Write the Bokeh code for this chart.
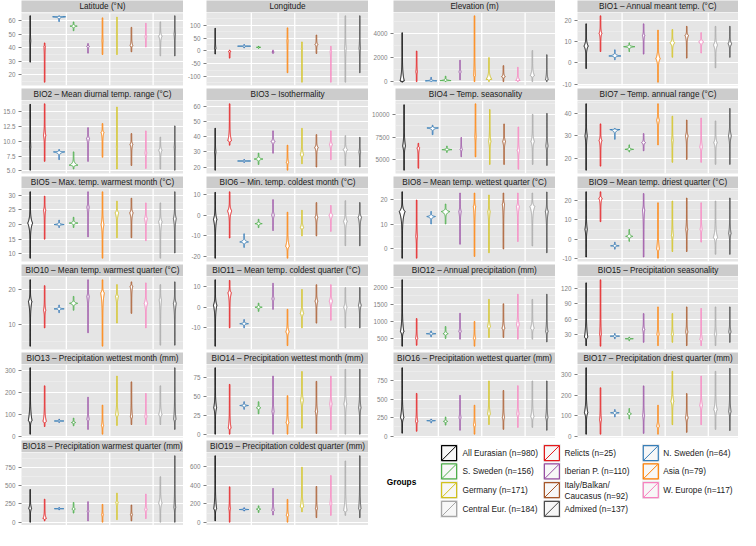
import numpy as np
from bokeh.plotting import figure
from bokeh.models import Range1d, DataRange1d, FixedTicker, Span, ColumnDataSource, CustomJSTickFormatter
from bokeh.layouts import row, column
from bokeh.embed import file_html
from bokeh.resources import INLINE
from bokeh.core.properties import value

FONT = "Liberation Sans"

# ---------------- groups ----------------
GROUP_LABELS = ["All Eurasian (n=980)", "Relicts (n=25)", "N. Sweden (n=64)",
                "S. Sweden (n=156)", "Iberian P. (n=110)", "Asia (n=79)",
                "Germany (n=171)", "Italy/Balkan/\nCaucasus (n=92)", "W. Europe (n=117)",
                "Central Eur. (n=184)", "Admixed (n=137)"]
GROUP_COLORS = ["#000000", "#E41A1C", "#377EB8", "#4DAF4A", "#984EA3", "#FF7F00",
                "#D1C11D", "#A65628", "#F781BF", "#A6A6A6", "#4D4D4D"]
X_POS = [1, 2, 3, 4, 5, 6, 7, 8, 9, 10, 11]
SEPARATORS = [3.5, 6.5, 9.5]

# ---------------- violins: (min, max, densest value, half-width at densest) per group ----------------
LATITUDE = [(29.4, 63.5, 45, 0.04), (14.6, 43.5, 41, 0.05), (59.3, 63.5, 62.8, 0.45), (52.5, 59.0, 55.9, 0.25),
            (36, 43, 41, 0.1), (35, 62, 45, 0.04), (35, 62.5, 50, 0.04), (37, 55, 41.5, 0.1),
            (40.5, 58, 48, 0.06), (34, 59, 48.5, 0.12), (34, 63.5, 50, 0.05)]
LATITUDE_TICKS = [20, 30, 40, 50, 60]
LATITUDE_LABELS = ["20", "30", "40", "50", "60"]

LONGITUDE = [(-12, 88, 10, 0.05), (-28, 3, -2, 0.08), (12, 25, 18.5, 0.45), (10, 18, 14, 0.15),
             (-10, 3, -5, 0.08), (-85, 90, 40, 0.04), (-122, 35, 10, 0.04), (-10, 62, 25, 0.1),
             (-122, 18, 0, 0.05), (-122, 137, 10, 0.06), (-85, 137, 10, 0.05)]
LONGITUDE_TICKS = [-100, -50, 0, 50, 100]
LONGITUDE_LABELS = ["-100", "-50", "0", "50", "100"]

ELEVATION = [(-50, 4080, 50, 0.15), (0, 2550, 800, 0.06), (0, 350, 60, 0.4), (0, 450, 80, 0.38),
             (150, 1780, 800, 0.08), (0, 5500, 500, 0.06), (0, 2000, 200, 0.2), (0, 1330, 400, 0.13),
             (0, 1190, 100, 0.15), (0, 2590, 500, 0.15), (0, 2240, 150, 0.1)]
ELEVATION_TICKS = [0, 2000, 4000]
ELEVATION_LABELS = ["0", "2000", "4000"]

BIO1 = [(-2.6, 18.5, 8, 0.15), (5.4, 22.3, 14, 0.1), (1.5, 6.2, 3.3, 0.42), (5.4, 9.5, 7.7, 0.39),
        (4.2, 18.5, 13, 0.08), (-9.1, 15.5, 2, 0.15), (2.7, 15.8, 9.5, 0.17), (2.3, 17.3, 13, 0.12),
        (4.7, 14.3, 10, 0.17), (-2.3, 17.3, 8.5, 0.15), (2.7, 17.3, 9, 0.13)]
BIO1_TICKS = [-10, 0, 10, 20]
BIO1_LABELS = ["-10", "0", "10", "20"]

BIO2 = [(5.1, 16.25, 9, 0.04), (6.6, 16.35, 11, 0.08), (6.9, 8.6, 8.2, 0.39), (5.3, 8.2, 5.95, 0.3),
        (6.6, 12.3, 10.5, 0.1), (7.3, 13.0, 11.5, 0.1), (5.3, 15.8, 9, 0.04), (5.9, 11.3, 9.5, 0.1),
        (5.4, 11.75, 8, 0.06), (5.3, 10.7, 8.5, 0.12), (5.1, 12.6, 9, 0.04)]
BIO2_TICKS = [5.0, 7.5, 10.0, 12.5, 15.0]
BIO2_LABELS = ["5.0", "7.5", "10.0", "12.5", "15.0"]

BIO3 = [(17.9, 45.7, 30, 0.05), (34.5, 62, 37.5, 0.13), (23, 25, 24, 0.45), (21.7, 29.2, 25.3, 0.3),
        (29.2, 44, 37, 0.13), (17.9, 34.5, 23, 0.08), (22.2, 45.7, 28, 0.12), (20, 41.5, 33, 0.12),
        (24.9, 44, 35, 0.1), (21, 40.8, 31.5, 0.15), (20, 39.7, 30, 0.06)]
BIO3_TICKS = [20, 30, 40, 50, 60]
BIO3_LABELS = ["20", "30", "40", "50", "60"]

BIO4 = [(3830, 11060, 6500, 0.1), (4050, 6800, 6300, 0.1), (7760, 8800, 8500, 0.4), (5800, 6500, 6100, 0.35),
        (5320, 7440, 6100, 0.08), (5300, 11170, 7500, 0.05), (4470, 10530, 7000, 0.08), (4470, 8940, 7000, 0.1),
        (3940, 8600, 6000, 0.08), (4470, 10000, 7000, 0.12), (4360, 10100, 6500, 0.08)]
BIO4_TICKS = [5000, 7500, 10000]
BIO4_LABELS = ["5000", "7500", "10000"]

BIO7 = [(14.8, 44.2, 30, 0.08), (16.6, 35.3, 28, 0.1), (28.5, 33.3, 32.8, 0.35), (22.9, 26, 24, 0.3),
        (23.4, 31, 27, 0.13), (26, 44.2, 37, 0.1), (18.3, 38.7, 28, 0.06), (19.6, 37, 30, 0.1),
        (18.3, 37.9, 25, 0.09), (17.4, 36.6, 27, 0.12), (17.4, 42.1, 30, 0.1)]
BIO7_TICKS = [20, 30, 40]
BIO7_LABELS = ["20", "30", "40"]

BIO5 = [(8.5, 31.2, 20.5, 0.17), (15, 29.7, 25, 0.08), (19, 21.5, 20, 0.35), (19, 22.5, 20.5, 0.3),
        (15.8, 31.2, 26, 0.08), (8.5, 31.2, 20, 0.1), (15.5, 28, 24, 0.13), (15.5, 29, 24, 0.12),
        (14.5, 27.4, 22, 0.1), (8.5, 27.4, 21, 0.12), (10.3, 31.2, 22, 0.1)]
BIO5_TICKS = [10, 15, 20, 25, 30]
BIO5_LABELS = ["10", "15", "20", "25", "30"]

BIO6 = [(-20.7, 10.9, -2, 0.12), (-11, 11.2, 2, 0.15), (-15.5, -9, -12.9, 0.3), (-6, -2, -4.1, 0.25),
        (-7.4, 7.4, 0, 0.1), (-20.7, 1.4, -15, 0.13), (-10, 2.3, -6, 0.12), (-10, 6, -1, 0.1),
        (-7.8, 4.6, 0, 0.14), (-14.7, 6.9, -3, 0.13), (-14.7, 6, -1, 0.12)]
BIO6_TICKS = [-20, -10, 0, 10]
BIO6_LABELS = ["-20", "-10", "0", "10"]

BIO8 = [(-3.7, 22.9, 15, 0.2), (-3.7, 19.6, 5, 0.06), (10, 15, 13, 0.3), (10, 18, 15, 0.3),
        (1.9, 22.4, 15, 0.08), (-3, 22.4, 17, 0.08), (-1.5, 21.6, 15, 0.08), (0, 22.4, 18, 0.08),
        (3, 22.4, 17, 0.1), (1.2, 22.4, 17, 0.17), (-1.5, 22.8, 15, 0.1)]
BIO8_TICKS = [0, 10, 20]
BIO8_LABELS = ["0", "10", "20"]

BIO9 = [(-9, 24.2, 5, 0.08), (9, 24.2, 21, 0.12), (-5, -1.5, -3.3, 0.3), (-1, 5, 1.5, 0.25),
        (-9, 23.3, 15, 0.08), (-9.6, 18.6, -5, 0.1), (-6.2, 19.5, 2, 0.07), (-6.2, 21, 5, 0.07),
        (-1.4, 18.6, 5, 0.07), (-7.6, 19.5, 1, 0.15), (-7.6, 21, 3, 0.08)]
BIO9_TICKS = [-10, 0, 10, 20]
BIO9_LABELS = ["-10", "0", "10", "20"]

BIO10 = [(3.6, 22.8, 16.5, 0.12), (8.9, 21.1, 14, 0.08), (13.3, 15.5, 14.4, 0.35), (14, 18, 16, 0.28),
         (7.5, 22.8, 18, 0.08), (3.6, 22.8, 19, 0.13), (10.3, 21.4, 18, 0.1), (13.1, 22.2, 21, 0.1),
         (8.9, 21.9, 16, 0.12), (3.9, 21.4, 17, 0.08), (3.9, 22.2, 16, 0.1)]
BIO10_TICKS = [10, 20]
BIO10_LABELS = ["10", "20"]

BIO11 = [(-18.9, 13.3, 1, 0.12), (-10, 13, 7, 0.12), (-10, -6, -8, 0.3), (-2, 2, 0, 0.25),
         (-1, 11.6, 4, 0.08), (-18.6, -1, -12, 0.12), (-10, 8.6, -3, 0.12), (-7.7, 10.9, 3, 0.1),
         (-6.3, 10.9, 3, 0.12), (-10, 9.5, 0, 0.12), (-10, 9.5, 1, 0.1)]
BIO11_TICKS = [-10, 0, 10]
BIO11_LABELS = ["-10", "0", "10"]

BIO12 = [(273, 2226, 700, 0.12), (300, 1085, 500, 0.08), (550, 720, 640, 0.33), (500, 850, 640, 0.18),
         (480, 1240, 700, 0.08), (273, 1000, 500, 0.08), (530, 1650, 850, 0.1), (530, 1520, 800, 0.1),
         (480, 1800, 900, 0.1), (480, 1650, 800, 0.13), (400, 1800, 700, 0.08)]
BIO12_TICKS = [500, 1000, 1500, 2000]
BIO12_LABELS = ["500", "1000", "1500", "2000"]

BIO15 = [(8.6, 131, 25, 0.12), (7.4, 137, 30, 0.06), (22, 32, 27, 0.33), (18, 25, 22, 0.28),
         (15, 71, 40, 0.08), (8.6, 84, 30, 0.08), (15, 71, 30, 0.08), (8.6, 84, 35, 0.08),
         (8.6, 81, 20, 0.08), (8.6, 84, 30, 0.08), (15, 84, 35, 0.08)]
BIO15_TICKS = [30, 60, 90, 120]
BIO15_LABELS = ["30", "60", "90", "120"]

BIO13 = [(12, 314, 75, 0.13), (47, 232, 70, 0.12), (65, 80, 72, 0.33), (50, 85, 65, 0.15),
         (34, 180, 80, 0.08), (12, 144, 50, 0.08), (52, 276, 100, 0.1), (56, 250, 90, 0.08),
         (56, 197, 90, 0.08), (56, 232, 100, 0.12), (34, 314, 80, 0.08)]
BIO13_TICKS = [0, 100, 200, 300]
BIO13_LABELS = ["0", "100", "200", "300"]

BIO14 = [(0, 88, 35, 0.1), (0, 66, 8, 0.1), (33, 43, 38, 0.3), (27, 43, 35, 0.15),
         (0, 77, 30, 0.07), (0, 51, 15, 0.1), (8, 83, 45, 0.1), (1, 70, 30, 0.08),
         (6, 77, 40, 0.08), (0, 86, 40, 0.1), (0, 86, 35, 0.08)]
BIO14_TICKS = [0, 25, 50, 75]
BIO14_LABELS = ["0", "25", "50", "75"]

BIO16 = [(40, 929, 250, 0.12), (66, 580, 200, 0.08), (180, 230, 210, 0.3), (150, 260, 200, 0.15),
         (80, 553, 250, 0.07), (26, 420, 150, 0.08), (158, 750, 300, 0.1), (92, 620, 250, 0.08),
         (119, 685, 300, 0.08), (119, 750, 260, 0.12), (80, 750, 250, 0.08)]
BIO16_TICKS = [0, 250, 500, 750]
BIO16_LABELS = ["0", "250", "500", "750"]

BIO17 = [(12, 331, 115, 0.12), (12, 235, 80, 0.07), (95, 130, 115, 0.3), (85, 135, 110, 0.15),
         (16, 244, 100, 0.07), (12, 151, 50, 0.1), (58, 314, 170, 0.1), (21, 207, 90, 0.1),
         (58, 291, 150, 0.09), (35, 314, 130, 0.12), (30, 328, 120, 0.08)]
BIO17_TICKS = [0, 100, 200, 300]
BIO17_LABELS = ["0", "100", "200", "300"]

BIO18 = [(0, 447, 190, 0.1), (18, 315, 50, 0.12), (170, 200, 185, 0.33), (125, 270, 180, 0.12),
         (18, 280, 150, 0.06), (0, 244, 100, 0.07), (35, 398, 270, 0.08), (18, 235, 100, 0.08),
         (50, 385, 170, 0.08), (0, 623, 260, 0.12), (0, 910, 200, 0.06)]
BIO18_TICKS = [0, 250, 500, 750]
BIO18_LABELS = ["0", "250", "500", "750"]

BIO19 = [(21, 714, 150, 0.1), (6, 383, 150, 0.06), (125, 160, 141, 0.33), (110, 180, 145, 0.15),
         (83, 366, 130, 0.08), (6, 249, 80, 0.09), (117, 593, 170, 0.12), (55, 387, 150, 0.07),
         (79, 503, 200, 0.07), (79, 659, 130, 0.12), (55, 714, 150, 0.08)]
BIO19_TICKS = [0, 200, 400, 600]
BIO19_LABELS = ["0", "200", "400", "600"]

PANELS = [
    ("Latitude (\u00b0N)", LATITUDE, LATITUDE_TICKS, LATITUDE_LABELS),
    ("Longitude", LONGITUDE, LONGITUDE_TICKS, LONGITUDE_LABELS),
    ("Elevation (m)", ELEVATION, ELEVATION_TICKS, ELEVATION_LABELS),
    ("BIO1 \u2013 Annual meant temp. (\u00b0C)", BIO1, BIO1_TICKS, BIO1_LABELS),
    ("BIO2 \u2013 Mean diurnal temp. range (\u00b0C)", BIO2, BIO2_TICKS, BIO2_LABELS),
    ("BIO3 \u2013 Isothermality", BIO3, BIO3_TICKS, BIO3_LABELS),
    ("BIO4 \u2013 Temp. seasonality", BIO4, BIO4_TICKS, BIO4_LABELS),
    ("BIO7 \u2013 Temp. annual range (\u00b0C)", BIO7, BIO7_TICKS, BIO7_LABELS),
    ("BIO5 \u2013 Max. temp. warmest month (\u00b0C)", BIO5, BIO5_TICKS, BIO5_LABELS),
    ("BIO6 \u2013 Min. temp. coldest month (\u00b0C)", BIO6, BIO6_TICKS, BIO6_LABELS),
    ("BIO8 \u2013 Mean temp. wettest quarter (\u00b0C)", BIO8, BIO8_TICKS, BIO8_LABELS),
    ("BIO9 \u2013 Mean temp. driest quarter (\u00b0C)", BIO9, BIO9_TICKS, BIO9_LABELS),
    ("BIO10 \u2013 Mean temp. warmest quarter (\u00b0C)", BIO10, BIO10_TICKS, BIO10_LABELS),
    ("BIO11 \u2013 Mean  temp. coldest quarter (\u00b0C)", BIO11, BIO11_TICKS, BIO11_LABELS),
    ("BIO12 \u2013 Annual precipitation (mm)", BIO12, BIO12_TICKS, BIO12_LABELS),
    ("BIO15 \u2013 Precipitation seasonality", BIO15, BIO15_TICKS, BIO15_LABELS),
    ("BIO13 \u2013 Precipitation wettest month (mm)", BIO13, BIO13_TICKS, BIO13_LABELS),
    ("BIO14 \u2013 Precipitation wettest month (mm)", BIO14, BIO14_TICKS, BIO14_LABELS),
    ("BIO16 \u2013 Precipitation wettest quarter (mm)", BIO16, BIO16_TICKS, BIO16_LABELS),
    ("BIO17 \u2013 Precipitation driest quarter (mm)", BIO17, BIO17_TICKS, BIO17_LABELS),
    ("BIO18 \u2013 Precipitation warmest quarter (mm)", BIO18, BIO18_TICKS, BIO18_LABELS),
    ("BIO19 \u2013 Precipitation coldest quarter (mm)", BIO19, BIO19_TICKS, BIO19_LABELS),
]

# ---------------- styling / layout ----------------
PANEL_BG = "#E5E5E5"
STRIP_BG = "#CCCCCC"
AXIS_GREY = "#7F7F7F"
COL_W = [183, 185, 187, 183]
COL_L = [21, 23, 25, 22]
STRIP_H = 12
FRAME_H = 73
GAP = 3


def violin_outline(x0, lo, hi, mid, w, n=120, wmin=0.02, p=7.0):
    ys = np.union1d(np.linspace(lo, hi, n), [mid])
    up = max(hi - mid, 1e-9)
    dn = max(mid - lo, 1e-9)
    d = np.where(ys >= mid, (ys - mid) / up, (mid - ys) / dn)
    d = np.clip(d, 0, 1)
    w = max(w, wmin)
    hw = wmin + (w - wmin) * (1 - d) ** p
    xs = np.concatenate([x0 - hw, (x0 + hw)[::-1]])
    yy = np.concatenate([ys, ys[::-1]])
    return list(xs), list(yy)


def make_strip(title, width, left):
    s = figure(width=width, height=STRIP_H, x_range=Range1d(0, 1), y_range=Range1d(0, 1),
               x_axis_type=None, y_axis_type=None, toolbar_location=None, output_backend="svg",
               min_border_left=left, min_border_right=0, min_border_top=0, min_border_bottom=0,
               background_fill_color=STRIP_BG, border_fill_color="white", outline_line_color=None)
    s.text(x=[0.5], y=[0.5], text=[title], text_align="center", text_baseline="middle",
           text_font=value(FONT), text_font_size="8.2px", text_color="#1A1A1A")
    return s


def make_panel(data, ticks, labels, width, left, gap):
    p = figure(width=width, height=FRAME_H + gap, x_range=Range1d(0.4, 11.6),
               y_range=DataRange1d(range_padding=0.1),
               x_axis_type=None, toolbar_location=None, output_backend="svg",
               min_border_left=left, min_border_right=0, min_border_top=0, min_border_bottom=gap,
               background_fill_color=PANEL_BG, border_fill_color="white", outline_line_color=None)
    step = ticks[1] - ticks[0]
    minor = [t - step / 2 for t in ticks] + [ticks[-1] + step / 2]
    ticker = FixedTicker(ticks=ticks, minor_ticks=minor)
    p.yaxis.ticker = ticker
    p.ygrid.ticker = ticker
    p.yaxis.major_label_overrides = {t: lab for t, lab in zip(ticks, labels)}
    dec = 1 if any("." in lab for lab in labels) else 0
    p.yaxis.formatter = CustomJSTickFormatter(code="return tick.toFixed(%d);" % dec)
    p.yaxis.axis_line_color = None
    p.yaxis.major_tick_line_color = AXIS_GREY
    p.yaxis.major_tick_out = 3
    p.yaxis.major_tick_in = 0
    p.yaxis.minor_tick_line_color = None
    p.yaxis.major_label_text_color = AXIS_GREY
    p.yaxis.major_label_text_font = FONT
    p.yaxis.major_label_text_font_size = "6.3px"
    p.yaxis.major_label_standoff = 2
    p.ygrid.grid_line_color = "white"
    p.ygrid.grid_line_width = 1
    p.ygrid.minor_grid_line_color = "#F2F2F2"
    p.ygrid.minor_grid_line_width = 0.5
    for sx in SEPARATORS:
        p.add_layout(Span(location=sx, dimension="height", line_color="white",
                          line_width=1.3, level="underlay"))
    xs, ys = [], []
    for x0, (lo, hi, mid, w) in zip(X_POS, data):
        a, b = violin_outline(x0, lo, hi, mid, w)
        xs.append(a)
        ys.append(b)
    src = ColumnDataSource(dict(xs=xs, ys=ys, color=GROUP_COLORS))
    p.patches("xs", "ys", source=src, fill_color="white", line_color="color", line_width=1)
    return p


def make_legend(width, height):
    lg = figure(width=width, height=height, x_range=Range1d(0, width), y_range=Range1d(height, 0),
                x_axis_type=None, y_axis_type=None, toolbar_location=None, output_backend="svg",
                min_border_left=0, min_border_right=0, min_border_top=0, min_border_bottom=0,
                background_fill_color="white", border_fill_color="white", outline_line_color=None)
    lg.xgrid.visible = False
    lg.ygrid.visible = False
    key_x = [72.6, 175.4, 274.3]
    text_x = [94, 196, 294.8]
    row_y = [12.6, 30.9, 49.6, 68.4]
    ks = 16
    cx = [key_x[i % 3] + ks / 2 for i in range(len(GROUP_LABELS))]
    cy = [row_y[i // 3] for i in range(len(GROUP_LABELS))]
    tx = [text_x[i % 3] for i in range(len(GROUP_LABELS))]
    lg.rect(x=cx, y=cy, width=ks + 1.5, height=ks + 1.5, fill_color=PANEL_BG, line_color=None)
    lg.rect(x=cx, y=cy, width=ks - 1, height=ks - 1, fill_color="#F7F7F7",
            line_color=GROUP_COLORS, line_width=1.2)
    lg.segment(x0=[c - ks / 2 + 1 for c in cx], y0=[c + ks / 2 - 1 for c in cy],
               x1=[c + ks / 2 - 1 for c in cx], y1=[c - ks / 2 + 1 for c in cy],
               line_color=GROUP_COLORS, line_width=1)
    lg.text(x=tx, y=cy, text=GROUP_LABELS, text_align="left", text_baseline="middle",
            text_font=value(FONT), text_font_size="8.3px", text_color="#1A1A1A", text_line_height=1.1)
    lg.text(x=[33], y=[41.8], text=["Groups"], text_align="center", text_baseline="middle",
            text_font=value(FONT), text_font_size="8.3px", text_font_style="bold", text_color="#000000")
    return lg


rows = []
for r in range(6):
    cells = []
    for c in range(4):
        idx = r * 4 + c
        if idx >= len(PANELS):
            break
        title, data, ticks, labels = PANELS[idx]
        gap = GAP if r < 5 else 0
        strip = make_strip(title, COL_W[c], COL_L[c])
        panel = make_panel(data, ticks, labels, COL_W[c], COL_L[c], gap)
        cells.append(column(strip, panel))
    if r == 5:
        cells.append(make_legend(COL_W[2] + COL_W[3], STRIP_H + FRAME_H))
    rows.append(row(*cells))

layout = column(*rows)

with open("out.html", "w") as f:
    f.write(file_html(layout, INLINE))
